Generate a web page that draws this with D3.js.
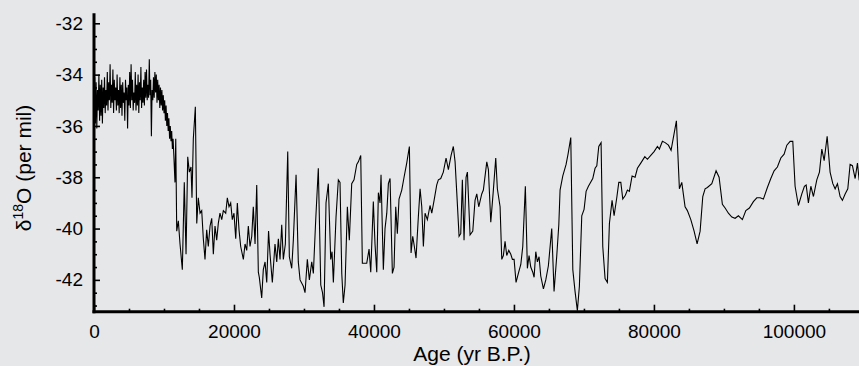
<!DOCTYPE html>
<html>
<head>
<meta charset="utf-8">
<script src="https://cdn.jsdelivr.net/npm/d3@7"></script>
<style>
  html, body { margin: 0; padding: 0; background: #e6e7e9; }
  svg { display: block; }
  text { font-family: "Liberation Sans", Arial, sans-serif; fill: #000; }
</style>
</head>
<body>
<svg id="chart" width="859" height="366"></svg>
<script>
// GISP2 oxygen isotope record: [age yr B.P., d18O per mil]
var holoceneRecord = [
  [0,-35.2],[100,-34.1],[200,-35.9],[300,-34.3],[400,-36.1],[500,-34.6],[600,-35.4],[700,-34.0],[800,-35.8],[900,-34.4],
  [1000,-35.6],[1100,-34.2],[1200,-35.9],[1300,-34.5],[1400,-35.3],[1500,-34.1],[1600,-35.5],[1700,-34.6],[1800,-35.2],[1900,-33.9],
  [2000,-35.4],[2100,-34.3],[2200,-35.0],[2300,-33.6],[2400,-35.3],[2500,-34.4],[2600,-35.1],[2700,-33.8],[2800,-35.5],[2900,-34.2],
  [3000,-35.0],[3100,-34.5],[3200,-35.4],[3300,-34.0],[3400,-35.2],[3500,-34.6],[3600,-35.5],[3700,-34.1],[3800,-35.3],[3900,-34.4],
  [4000,-35.6],[4100,-34.3],[4200,-35.1],[4300,-34.7],[4400,-35.8],[4500,-34.2],[4600,-35.0],[4700,-34.5],[4800,-36.1],[4900,-34.4],
  [5000,-35.2],[5100,-33.9],[5200,-35.3],[5300,-33.6],[5400,-35.0],[5500,-34.2],[5600,-35.4],[5700,-34.7],[5800,-35.1],[5900,-33.9],
  [6000,-35.4],[6100,-34.4],[6200,-35.2],[6300,-34.0],[6400,-35.5],[6500,-34.3],[6600,-35.0],[6700,-33.7],[6800,-35.3],[6900,-34.5],
  [7000,-35.1],[7100,-34.2],[7200,-35.2],[7300,-33.9],[7400,-34.9],[7500,-33.8],[7600,-35.0],[7700,-34.4],[7800,-34.9],[7900,-33.4],
  [8000,-34.8],[8100,-34.2],[8200,-36.4],[8300,-34.6],[8400,-35.0],[8500,-34.1],[8600,-34.9],[8700,-33.9],[8800,-34.7],[8900,-34.0],
  [9000,-35.1],[9100,-34.2],[9200,-35.0],[9300,-34.4],[9400,-35.3],[9500,-34.5],[9600,-35.2],[9700,-34.6],[9800,-35.4],[9900,-34.8],
  [10000,-35.5],[10100,-35.0],[10200,-35.8],[10300,-35.2],[10400,-36.0],[10500,-35.5],[10600,-36.2],[10700,-35.7],[10800,-36.5],[10900,-36.0],
  [11000,-36.6],[11100,-36.2],[11200,-36.9],[11300,-36.5],[11400,-37.1]
];

var glacialRecord = [
  [11570,-38.2],[11680,-36.5],[11820,-40.1],[12050,-39.7],[12290,-40.6],[12620,-41.6],[12900,-38.2],[13150,-41.0],[13390,-37.2],[13620,-37.8],
  [13860,-37.6],[14000,-38.8],[14190,-36.5],[14480,-35.25],[14680,-39.8],[14900,-38.8],[15150,-39.4],[15390,-39.3],[15620,-40.4],[15860,-41.2],
  [16100,-40.05],[16330,-40.7],[16580,-39.9],[16820,-39.6],[17050,-41.0],[17290,-39.9],[17530,-40.45],[17760,-39.8],[18000,-39.4],[18250,-39.65],
  [18480,-39.3],[18820,-39.4],[19050,-38.8],[19290,-39.15],[19530,-39.0],[19760,-39.65],[20000,-39.4],[20250,-40.4],[20480,-39.0],[20720,-40.05],
  [20960,-40.7],[21340,-41.2],[21580,-40.6],[21820,-40.85],[22050,-39.9],[22290,-40.7],[22540,-40.3],[22760,-39.15],[23010,-40.6],[23250,-38.3],
  [23480,-41.7],[23620,-41.9],[23960,-42.7],[24190,-41.6],[24440,-41.3],[24680,-42.1],[24940,-40.1],[25150,-41.0],[25480,-42.1],[25860,-40.6],
  [26110,-41.3],[26340,-40.4],[26580,-41.2],[26820,-39.85],[27050,-41.2],[27340,-40.6],[27680,-37.0],[27910,-41.1],[28250,-41.55],[28480,-40.45],
  [28870,-37.9],[29190,-41.3],[29440,-42.0],[29910,-42.25],[30150,-42.5],[30480,-41.2],[30770,-42.0],[31110,-41.3],[31340,-41.75],[31680,-39.65],
  [32050,-37.65],[32400,-42.2],[32650,-42.5],[32870,-43.05],[33150,-39.0],[33480,-38.25],[33820,-41.2],[34010,-40.9],[34200,-42.1],[34580,-39.55],
  [34910,-38.1],[35150,-38.2],[35400,-41.75],[35620,-42.9],[35870,-42.2],[36200,-39.15],[36480,-40.45],[36820,-38.25],[37150,-38.1],[37540,-37.5],
  [37770,-37.4],[38110,-37.15],[38340,-41.35],[38730,-41.35],[38970,-41.35],[39300,-40.8],[39540,-41.7],[39910,-38.95],[40150,-40.6],[40400,-41.7],
  [40630,-38.6],[40870,-39.0],[41010,-37.9],[41340,-41.6],[41580,-40.0],[41830,-39.4],[42060,-38.25],[42300,-38.05],[42630,-41.75],[42870,-41.5],
  [43110,-39.15],[43340,-40.2],[43580,-38.85],[43970,-38.5],[44300,-38.0],[44680,-37.45],[45060,-36.8],[45300,-40.95],[45540,-40.3],[45770,-40.7],
  [46010,-41.15],[46340,-39.55],[46590,-38.45],[46830,-39.15],[47060,-40.7],[47300,-39.4],[47630,-39.65],[48010,-39.1],[48260,-39.4],[48590,-38.9],
  [48970,-38.3],[49200,-38.1],[49540,-38.05],[49910,-37.8],[50300,-37.25],[50630,-37.7],[51020,-37.15],[51340,-36.8],[51590,-37.4],[51830,-38.6],
  [52160,-40.3],[52400,-40.2],[52630,-38.1],[52870,-40.45],[53160,-38.0],[53350,-37.8],[53730,-40.25],[54120,-40.1],[54440,-38.9],[54690,-38.65],
  [54970,-39.15],[55400,-38.65],[55630,-38.5],[56120,-37.4],[56350,-37.7],[56690,-39.75],[57060,-38.5],[57400,-37.25],[57630,-38.45],[57770,-38.7],
  [58020,-39.15],[58260,-41.2],[58490,-41.05],[58730,-40.5],[58970,-41.05],[59260,-40.85],[59550,-41.0],[59780,-41.2],[60020,-41.2],[60300,-42.1],
  [60630,-41.75],[60980,-41.4],[61260,-40.7],[61630,-38.35],[61920,-41.55],[62160,-41.05],[62400,-41.5],[62690,-41.7],[62880,-41.9],[63120,-40.9],
  [63350,-41.3],[63590,-41.1],[63830,-41.85],[64210,-42.35],[64550,-42.0],[64920,-41.45],[65400,-40.0],[65730,-42.45],[66120,-41.05],[66410,-39.85],
  [66590,-38.5],[66980,-37.95],[67450,-37.5],[67730,-37.1],[68120,-36.45],[68410,-41.6],[68730,-42.45],[69060,-43.2],[69350,-42.25],[69690,-39.5],
  [70020,-39.25],[70310,-38.55],[70640,-38.35],[71260,-38.05],[71590,-37.65],[71840,-37.55],[72120,-36.8],[72450,-36.65],[72690,-40.7],[73020,-41.95],
  [73350,-42.1],[73640,-39.8],[74020,-38.9],[74310,-39.5],[74690,-38.8],[74980,-38.2],[75270,-38.2],[75550,-38.85],[75920,-38.7],[76210,-38.5],
  [76490,-38.55],[76880,-37.95],[77310,-38.0],[77640,-37.65],[78120,-37.45],[78700,-37.2],[79070,-37.3],[79550,-37.15],[80020,-37.0],[80500,-36.8],
  [80780,-36.9],[81210,-36.6],[81600,-36.65],[82070,-36.75],[82450,-36.95],[83210,-35.8],[83640,-38.45],[83980,-38.2],[84450,-39.15],[84780,-39.3],
  [85270,-39.65],[85740,-40.1],[86170,-40.6],[86600,-40.1],[86980,-38.75],[87310,-38.45],[87640,-38.4],[88270,-38.25],[88880,-37.75],[89310,-38.0],
  [89780,-39.05],[90170,-39.2],[90640,-39.4],[91130,-39.55],[91600,-39.6],[92070,-39.5],[92640,-39.65],[93130,-39.3],[93640,-39.2],[94210,-38.95],
  [94700,-38.8],[95170,-38.8],[95640,-38.85],[96210,-38.4],[96700,-38.05],[97170,-37.75],[97640,-37.6],[98130,-37.25],[98600,-37.1],[98990,-36.75],
  [99460,-36.6],[99840,-36.6],[100170,-38.35],[100640,-39.1],[101130,-38.65],[101500,-38.35],[101750,-38.3],[102070,-39.0],[102420,-38.35],[102790,-38.75],
  [103270,-38.1],[103650,-37.8],[103990,-36.9],[104320,-37.35],[104750,-36.4],[105170,-37.8],[105560,-38.25],[105890,-38.45],[106220,-38.25],[106600,-38.75],
  [106930,-38.9],[107320,-38.65],[107700,-38.45],[108030,-37.5],[108360,-37.55],[108750,-38.05],[109080,-37.45],[109320,-38.1],[109700,-38.3]
];

var xMajorTicks = [0, 20000, 40000, 60000, 80000, 100000];
var yMajorTicks = [-42, -40, -38, -36, -34, -32];

var xAxisTitle = 'Age (yr B.P.)';

var svg = d3.select('#chart');

// plot frame in pixels (named so they don't clash with window.top)
var plotLeft = 94, plotRight = 859, plotTop = 13.3, plotBottom = 311.7;

var x = d3.scaleLinear().domain([0, 109300]).range([plotLeft, plotRight]);
var y = d3.scaleLinear().domain([-43.24, -31.61]).range([plotBottom, plotTop]);

var record = holoceneRecord.concat(glacialRecord);

svg.append('clipPath').attr('id', 'plotClip')
  .append('rect')
    .attr('x', plotLeft)
    .attr('y', plotTop)
    .attr('width', plotRight - plotLeft)
    .attr('height', plotBottom - plotTop);

var line = d3.line()
  .x(function(d) { return x(d[0]); })
  .y(function(d) { return y(d[1]); });

svg.append('path')
  .datum(record)
  .attr('clip-path', 'url(#plotClip)')
  .attr('fill', 'none')
  .attr('stroke', '#000')
  .attr('stroke-width', 1.1)
  .attr('d', line);

// minor ticks first, majors (with labels) on top
var xMinor = d3.range(0, 109300, 5000).filter(function(v) { return v % 20000 !== 0; });
var yMinor = d3.range(-43, -31.6, 0.5).filter(function(v) { return v % 2 !== 0; });

var xAxisMinor = d3.axisBottom(x).tickValues(xMinor).tickSize(-3).tickFormat('');
var xAxisMajor = d3.axisBottom(x).tickValues(xMajorTicks).tickSize(-7).tickPadding(13)
  .tickFormat(d3.format('d'));

var yAxisMinor = d3.axisLeft(y).tickValues(yMinor).tickSize(-3).tickFormat('');
var yAxisMajor = d3.axisLeft(y).tickValues(yMajorTicks).tickSize(-6).tickPadding(11)
  .tickFormat(function(d) { return String(d); });

function styleAxis(g) {
  g.select('.domain').remove();
  g.selectAll('line').attr('stroke', '#000').attr('stroke-width', 1.6);
  g.selectAll('text')
    .attr('font-family', '"Liberation Sans", Arial, sans-serif')
    .attr('font-size', 19)
    .attr('fill', '#000');
}

svg.append('g').attr('transform', 'translate(0,' + plotBottom + ')').call(xAxisMinor).call(styleAxis);
svg.append('g').attr('transform', 'translate(0,' + plotBottom + ')').call(xAxisMajor).call(styleAxis);
svg.append('g').attr('transform', 'translate(' + plotLeft + ',0)').call(yAxisMinor).call(styleAxis);
svg.append('g').attr('transform', 'translate(' + plotLeft + ',0)').call(yAxisMajor).call(styleAxis);

// thick axis lines
svg.append('line')
  .attr('x1', plotLeft).attr('x2', plotLeft)
  .attr('y1', plotTop).attr('y2', plotBottom + 1.5)
  .attr('stroke', '#000').attr('stroke-width', 3);
svg.append('line')
  .attr('x1', plotLeft - 1.5).attr('x2', plotRight)
  .attr('y1', plotBottom).attr('y2', plotBottom)
  .attr('stroke', '#000').attr('stroke-width', 3);

svg.append('text')
  .attr('x', 472)
  .attr('y', 361)
  .attr('text-anchor', 'middle')
  .attr('font-size', 21)
  .text(xAxisTitle);

var yTitle = svg.append('text')
  .attr('transform', 'translate(31,168) rotate(-90)')
  .attr('text-anchor', 'middle')
  .attr('font-size', 21);
yTitle.append('tspan').text('δ');
yTitle.append('tspan').attr('font-size', 14).attr('dy', -8).text('18');
yTitle.append('tspan').attr('dy', 8).text('O (per mil)');
</script>
</body>
</html>
